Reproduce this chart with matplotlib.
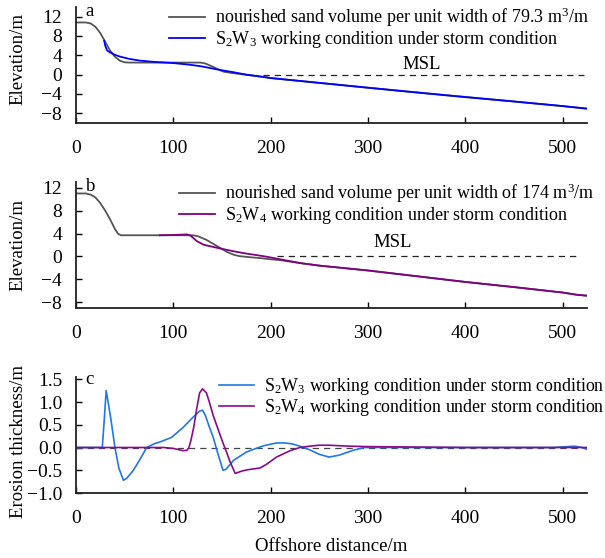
import matplotlib
matplotlib.use("Agg")
import matplotlib.pyplot as plt

plt.rcParams['font.family'] = ['Liberation Serif', 'DejaVu Serif']
plt.rcParams['mathtext.fontset'] = 'custom'
plt.rcParams['mathtext.rm'] = 'Liberation Serif'
plt.rcParams['mathtext.it'] = 'Liberation Serif:italic'

# ---- Panel a data ----
a_gray_x = [0, 10, 15, 20, 25, 30, 35, 40, 45, 50, 55, 60, 128, 133, 140, 147, 152, 160, 170, 180, 190, 200, 250, 300, 350, 400, 450, 500, 525]
a_gray_y = [10.8, 10.8, 10.6, 9.9, 8.6, 6.8, 5.0, 3.7, 2.9, 2.55, 2.5, 2.5, 2.5, 2.3, 1.7, 1.0, 0.6, 0.35, 0.1, -0.15, -0.4, -0.7, -1.7, -2.7, -3.65, -4.6, -5.55, -6.5, -7.0]
a_blue_x = [29, 30, 32, 35, 40, 45, 55, 66, 80, 100, 115, 128, 141, 150, 162, 175, 190, 200, 250, 300, 350, 400, 450, 500, 525]
a_blue_y = [7.0, 6.0, 5.0, 4.6, 4.1, 3.75, 3.25, 2.9, 2.65, 2.4, 2.1, 1.75, 1.25, 0.9, 0.5, 0.0, -0.4, -0.7, -1.7, -2.7, -3.7, -4.65, -5.55, -6.5, -7.05]

# ---- Panel b data ----
b_gray_x = [0, 10, 15, 20, 25, 30, 35, 40, 43, 46, 120, 125, 134, 141, 148, 155, 162, 168, 180, 190, 200, 210, 230, 250, 300, 350, 400, 450, 500, 515, 525]
b_gray_y = [11.0, 11.0, 10.8, 10.3, 9.3, 8.0, 6.5, 4.8, 4.0, 3.7, 3.7, 3.55, 2.9, 2.2, 1.5, 0.8, 0.3, 0.05, -0.15, -0.3, -0.5, -0.65, -1.15, -1.6, -2.45, -3.45, -4.45, -5.35, -6.3, -6.7, -6.85]
b_purple_x = [86, 100, 114, 118, 124, 131, 140, 148, 162, 175, 185, 196, 210, 230, 250, 300, 350, 400, 450, 500, 515, 525]
b_purple_y = [3.7, 3.75, 3.85, 3.6, 2.7, 2.05, 1.7, 1.4, 0.9, 0.5, 0.25, -0.05, -0.5, -1.15, -1.6, -2.45, -3.45, -4.45, -5.35, -6.3, -6.7, -6.85]

# ---- Panel c data ----
c_w3_x = [0, 27, 29, 31, 33, 36, 40, 44, 48.7, 52, 59, 66, 72.7, 80, 86, 98, 110, 120, 127, 130, 133, 137, 141, 146, 151, 154, 162, 175, 185, 193, 206, 215, 222, 230, 240, 250, 260, 270, 285, 296, 350, 400, 450, 490, 505, 512, 520, 525]
c_w3_y = [0, 0, 0.6, 1.25, 1.0, 0.6, 0.0, -0.45, -0.72, -0.68, -0.5, -0.25, 0.0, 0.08, 0.12, 0.22, 0.44, 0.66, 0.8, 0.82, 0.7, 0.45, 0.22, -0.15, -0.5, -0.48, -0.28, -0.1, -0.02, 0.04, 0.1, 0.1, 0.08, 0.03, -0.05, -0.15, -0.21, -0.17, -0.06, 0.0, 0.0, 0.0, 0.0, 0.0, 0.02, 0.03, 0.0, -0.04]
c_w4_x = [0, 90, 100, 110, 114, 116, 118, 121, 124, 127, 130, 134, 137, 141, 146, 151, 155, 158, 163.6, 170, 176, 189, 195, 206, 215, 220, 230, 240, 250, 260, 280, 300, 350, 400, 500, 525]
c_w4_y = [0, 0, -0.02, -0.07, -0.06, 0.0, 0.15, 0.45, 0.85, 1.2, 1.29, 1.2, 1.0, 0.7, 0.4, 0.1, -0.12, -0.3, -0.57, -0.52, -0.49, -0.45, -0.38, -0.21, -0.12, -0.07, 0.0, 0.03, 0.05, 0.05, 0.03, 0.02, 0.01, 0.0, 0.0, 0.0]

x_ticks = [0, 100, 200, 300, 400, 500]
elev_ticks = [12, 8, 4, 0, -4, -8]
eros_ticks = [1.5, 1.0, 0.5, 0.0, -0.5, -1.0]

W, H = 605, 558
fig = plt.figure(figsize=(W / 100, H / 100), dpi=100)

def mk_axes(top, bottom, left=76, right=587):
    return fig.add_axes([left / W, 1 - bottom / H, (right - left) / W, (bottom - top) / H])

axa = mk_axes(7, 123)
axb = mk_axes(182, 308)
axc = mk_axes(377, 493)

gray = '#555555'
for ax in (axa, axb, axc):
    for s in ('top', 'right'):
        ax.spines[s].set_visible(False)
    for s in ('left', 'bottom'):
        ax.spines[s].set_linewidth(1.3)
        ax.spines[s].set_color('#222222')
    ax.tick_params(direction='in', length=4, width=1.0, labelsize=14)
    ax.tick_params(axis='x', pad=12)
    ax.tick_params(axis='y', pad=10)
    ax.set_xlim(0, 525)
    ax.set_xticks(x_ticks)

leg_kw = dict(frameon=False, handlelength=2.0, handletextpad=0.55, borderaxespad=0.0, labelspacing=0.0)
ylab_x = -0.096

# Panel a
axa.plot(a_gray_x, a_gray_y, color=gray, lw=1.3, label='nourished sand volume per unit width of 79.3 m$^3$/m')
axa.plot(a_blue_x, a_blue_y, color='#0000ff', lw=1.3, label='S$_2$W$_3$ working condition under storm condition')
l, = axa.plot([192, 522], [0, 0], color='#222222', lw=0.9)
l.set_dashes([5, 4])
axa.text(355, 0.3, 'MSL', ha='center', va='bottom', fontsize=13.5)
axa.set_ylim(-10, 14)
axa.set_yticks(elev_ticks)
axa.set_yticklabels(['12', '8', '4', '0', '\u22124', '\u22128'])
axa.set_ylabel('Elevation/m', fontsize=13.5)
axa.yaxis.set_label_coords(ylab_x, 0.55)
axa.text(10, 13.0, 'a', fontsize=13.5, va='center')
axa.legend(loc='upper right', bbox_to_anchor=(1.018, 1.075), fontsize=13.0, **leg_kw)

# Panel b
axb.plot(b_gray_x, b_gray_y, color=gray, lw=1.3, label='nourished sand volume per unit width of 174 m$^3$/m')
axb.plot(b_purple_x, b_purple_y, color='#800080', lw=1.3, label='S$_2$W$_4$ working condition under storm condition')
l, = axb.plot([206, 516], [0, 0], color='#222222', lw=0.9)
l.set_dashes([5, 4])
axb.text(325, 1.0, 'MSL', ha='center', va='bottom', fontsize=13.5)
axb.set_ylim(-9, 13)
axb.set_yticks(elev_ticks)
axb.set_yticklabels(['12', '8', '4', '0', '\u22124', '\u22128'])
axb.set_ylabel('Elevation/m', fontsize=13.5)
axb.yaxis.set_label_coords(ylab_x, 0.5)
axb.text(10, 12.2, 'b', fontsize=13.5, va='center')
axb.legend(loc='upper right', bbox_to_anchor=(1.029, 1.06), fontsize=13.0, **leg_kw)

# Panel c
l, = axc.plot([0, 525], [0, 0], color='#444444', lw=0.9)
l.set_dashes([5, 4])
axc.plot(c_w3_x, c_w3_y, color='#1f78e6', lw=1.2, label='S$_2$W$_3$ working condition under storm condition')
axc.plot(c_w4_x, c_w4_y, color='#8b0a8b', lw=1.2, label='S$_2$W$_4$ working condition under storm condition')
axc.set_ylim(-1.0, 1.55)
axc.set_yticks(eros_ticks)
axc.set_yticklabels(['1.5', '1.0', '0.5', '0.0', '\u22120.5', '\u22121.0'])
axc.set_ylabel('Erosion thickness/m', fontsize=13.5)
axc.yaxis.set_label_coords(ylab_x, 0.44)
axc.set_xlabel('Offshore distance/m', fontsize=13.5, labelpad=8)
axc.text(10, 1.5, 'c', fontsize=13.5, va='center')
axc.legend(loc='upper right', bbox_to_anchor=(1.049, 1.07), fontsize=12.9, **leg_kw)

fig.savefig('out.png', dpi=100)
